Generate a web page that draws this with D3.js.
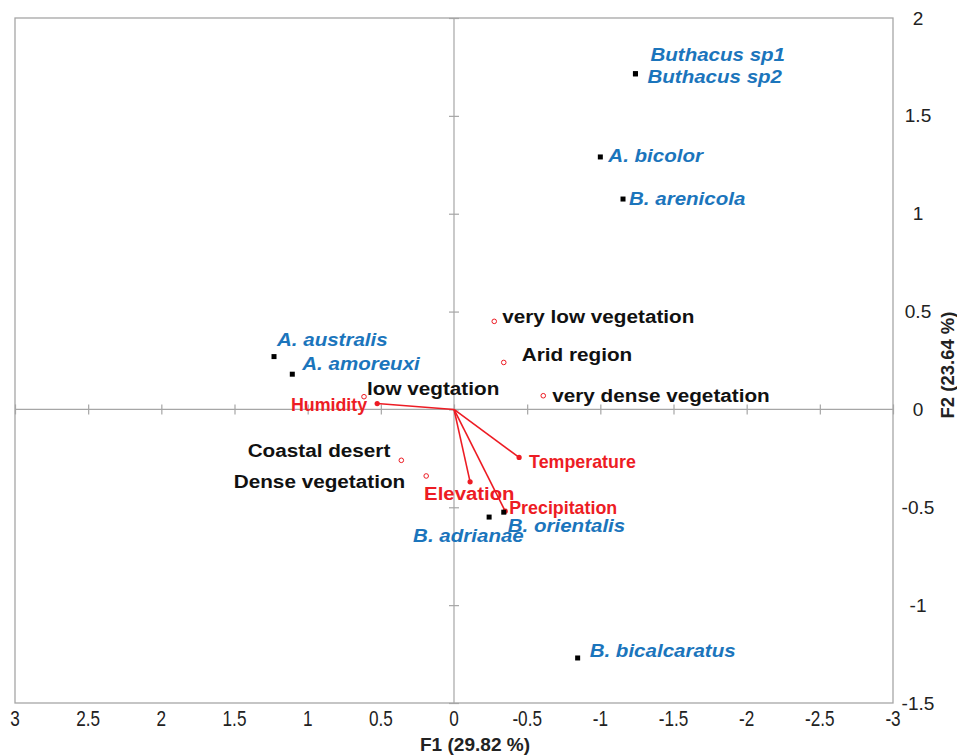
<!DOCTYPE html>
<html>
<head>
<meta charset="utf-8">
<script src="https://cdn.jsdelivr.net/npm/d3@7"></script>
<style>
  body { margin: 0; background: #fff; }
  svg { display: block; font-family: "Liberation Sans", Arial, sans-serif; }
</style>
</head>
<body>
<div id="graph"></div>
<script>
// Species scores (F1, F2)
const speciesNames = ["Buthacus sp1", "Buthacus sp2", "A. bicolor", "B. arenicola", "A. australis",
  "A. amoreuxi", "B. adrianae", "B. orientalis", "B. bicalcaratus"];
const speciesF1 = [-1.24, -1.24, -1.00, -1.155, 1.23, 1.105, -0.24, -0.34, -0.845];
const speciesF2 = [1.715, 1.715, 1.29, 1.075, 0.27, 0.18, -0.55, -0.525, -1.27];

// Habitat categories (supplementary points)
const habitatNames = ["very low vegetation", "Arid region", "very dense vegetation", "low vegtation",
  "Coastal desert", "Dense vegetation"];
const habitatF1 = [-0.275, -0.34, -0.61, 0.615, 0.36, 0.19];
const habitatF2 = [0.45, 0.24, 0.07, 0.065, -0.26, -0.34];

// Environmental variables (vectors)
const varNames = ["Humidity", "Temperature", "Elevation", "Precipitation"];
const varF1 = [0.525, -0.445, -0.11, -0.35];
const varF2 = [0.03, -0.245, -0.37, -0.52];

// axis ticks
const xTicks = [3, 2.5, 2, 1.5, 1, 0.5, 0, -0.5, -1, -1.5, -2, -2.5, -3];
const yTicks = [2, 1.5, 1, 0.5, 0, -0.5, -1, -1.5];

// label placement (dx, dy from the point, anchor) -- layout only
const speciesLabelPos = [[15, -19, "start"], [12, 3, "start"], [8, -1, "start"], [6, -1, "start"],
  [3, -17, "start"], [10, -11, "start"], [-76, 18, "start"], [4, 13, "start"], [12, -7, "start"]];
const habitatLabelPos = [[8, -5, "start"], [18, -8, "start"], [9, 0, "start"], [3, -8, "start"],
  [-11, -10, "end"], [-21, 6, "end"]];
const varLabelPos = [[-10, 1, "end", 17.5], [10, 4, "start", 17.5], [-46, 12, "start", 18.5], [4, -3, "start", 17.5]];

const width = 957, height = 756;
const plotLeft = 15, plotRight = 893, plotTop = 18, plotBottom = 703;
const blue = "#1b75bc", red = "#ed1c24", grey = "#a6a6a6";

const svg = d3.select("#graph").append("svg")
  .attr("width", width)
  .attr("height", height);

const x = d3.scaleLinear().domain([3, -3]).range([plotLeft, plotRight]);
const y = d3.scaleLinear().domain([2, -1.5]).range([plotTop, plotBottom]);

// frame
svg.append("rect")
  .attr("x", plotLeft).attr("y", plotTop)
  .attr("width", plotRight - plotLeft).attr("height", plotBottom - plotTop)
  .attr("fill", "none").attr("stroke", grey).attr("stroke-width", 1.3);

// zero lines with crossing ticks
const xZero = svg.append("g")
  .attr("transform", "translate(0," + (y(0) - 5) + ")")
  .call(d3.axisBottom(x).tickValues(xTicks).tickSize(10).tickFormat(""));
const yZero = svg.append("g")
  .attr("transform", "translate(" + (x(0) + 5) + ",0)")
  .call(d3.axisLeft(y).tickValues(yTicks).tickSize(10).tickFormat(""));
[xZero, yZero].forEach(g => {
  g.selectAll("line").attr("stroke", grey).attr("stroke-width", 1.2);
  g.select(".domain").remove();
});
svg.append("line").attr("x1", plotLeft).attr("x2", plotRight).attr("y1", y(0)).attr("y2", y(0))
  .attr("stroke", grey).attr("stroke-width", 1.2);
svg.append("line").attr("x1", x(0)).attr("x2", x(0)).attr("y1", plotTop).attr("y2", plotBottom)
  .attr("stroke", grey).attr("stroke-width", 1.2);

// tick labels (bottom and right), hyphen minus like the original
svg.append("g").selectAll("text")
  .data(xTicks).enter().append("text")
  .attr("transform", d => "translate(" + x(d) + ",726) scale(0.78,1)")
  .attr("text-anchor", "middle")
  .attr("font-size", 22)
  .attr("fill", "#222")
  .text(d => String(d));

svg.append("g").selectAll("text")
  .data(yTicks).enter().append("text")
  .attr("transform", d => "translate(918," + (y(d) + 6.5) + ") scale(1.06,1)")
  .attr("text-anchor", "middle")
  .attr("font-size", 18)
  .attr("fill", "#222")
  .text(d => String(d));

// axis titles
svg.append("text")
  .attr("transform", "translate(475,751) scale(1.03,1)")
  .attr("text-anchor", "middle")
  .attr("font-size", 18.5).attr("font-weight", "bold").attr("fill", "#222")
  .text("F1 (29.82 %)");
svg.append("text")
  .attr("transform", "translate(954,365) rotate(-90)")
  .attr("text-anchor", "middle")
  .attr("font-size", 18.5).attr("font-weight", "bold").attr("fill", "#222")
  .text("F2 (23.64 %)");

// vectors
const vars = varNames.map((n, i) => ({ name: n, f1: varF1[i], f2: varF2[i], pos: varLabelPos[i] }));
svg.append("g").selectAll("line")
  .data(vars).enter().append("line")
  .attr("x1", x(0)).attr("y1", y(0))
  .attr("x2", d => x(d.f1)).attr("y2", d => y(d.f2))
  .attr("stroke", red).attr("stroke-width", 1.6);
svg.append("g").selectAll("circle")
  .data(vars).enter().append("circle")
  .attr("cx", d => x(d.f1)).attr("cy", d => y(d.f2)).attr("r", 2.6)
  .attr("fill", red);

// habitat points
const habitats = habitatNames.map((n, i) => ({ name: n, f1: habitatF1[i], f2: habitatF2[i], pos: habitatLabelPos[i] }));
svg.append("g").selectAll("circle")
  .data(habitats).enter().append("circle")
  .attr("cx", d => x(d.f1)).attr("cy", d => y(d.f2)).attr("r", 2.3)
  .attr("fill", "#fff").attr("stroke", red).attr("stroke-width", 1);

// species points
const species = speciesNames.map((n, i) => ({ name: n, f1: speciesF1[i], f2: speciesF2[i], pos: speciesLabelPos[i] }));
svg.append("g").selectAll("rect")
  .data(species).enter().append("rect")
  .attr("x", d => x(d.f1) - 2.5).attr("y", d => y(d.f2) - 2.5)
  .attr("width", 5).attr("height", 5)
  .attr("fill", "#000");

// labels
function labelTransform(d, sx) {
  return "translate(" + (x(d.f1) + d.pos[0]) + "," + (y(d.f2) + d.pos[1]) + ") scale(" + sx + ",1)";
}
svg.append("g").selectAll("text")
  .data(habitats).enter().append("text")
  .attr("transform", d => labelTransform(d, 1.12))
  .attr("dy", "0.35em")
  .attr("text-anchor", d => d.pos[2])
  .attr("font-size", 18.5).attr("font-weight", "bold").attr("fill", "#111")
  .text(d => d.name);

svg.append("g").selectAll("text")
  .data(vars).enter().append("text")
  .attr("transform", d => labelTransform(d, d.pos[3] > 18 ? 1.1 : 1.02))
  .attr("dy", "0.35em")
  .attr("text-anchor", d => d.pos[2])
  .attr("font-size", d => d.pos[3]).attr("font-weight", "bold").attr("fill", red)
  .text(d => d.name);

svg.append("g").selectAll("text")
  .data(species).enter().append("text")
  .attr("transform", d => labelTransform(d, 1.11))
  .attr("dy", "0.35em")
  .attr("text-anchor", d => d.pos[2])
  .attr("font-size", 18.5).attr("font-weight", "bold").attr("font-style", "italic").attr("fill", blue)
  .text(d => d.name);
</script>
</body>
</html>
